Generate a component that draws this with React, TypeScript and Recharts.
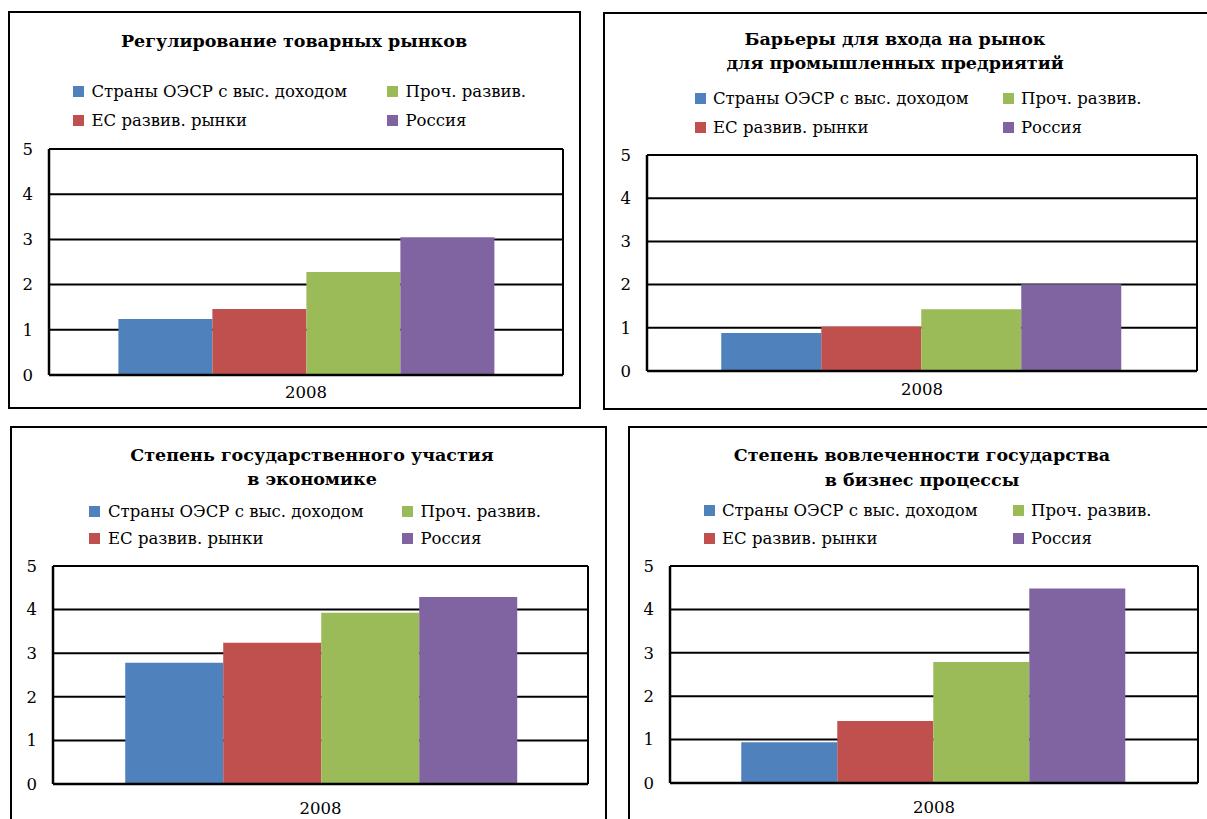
import React from 'react';
import { BarChart, Bar, XAxis, YAxis, CartesianGrid, Legend } from 'recharts';

// ряды и значения
const seriesNames = ['Страны ОЭСР с выс. доходом', 'ЕС развив. рынки', 'Проч. развив.', 'Россия'];
const seriesColors = ['#4F81BD', '#C0504D', '#9BBB59', '#8064A2'];
const years = ['2008'];
const yTicks = [0, 1, 2, 3, 4, 5];

const productMarketRegulation = [1.24, 1.46, 2.28, 3.05];
const entryBarriers = [0.88, 1.03, 1.43, 2.01];
const stateParticipation = [2.78, 3.24, 3.93, 4.29];
const businessInvolvement = [0.94, 1.43, 2.79, 4.48];

const FONT = '"DejaVu Serif", serif';

type PanelSpec = {
  titleLines: string[];
  values: number[];
  box: [number, number, number, number]; // left, top, right, bottom (page px)
  plot: [number, number, number, number];
  titleCenter: number;
  titleTop: number;
  titleLineHeight: number;
  legendCols: [number, number];
  legendRows: [number, number];
  textGap: number;
  xLabelGap: number;
};

const panels: PanelSpec[] = [
  {
    titleLines: ['Регулирование товарных рынков'],
    values: productMarketRegulation,
    box: [8, 11, 581, 409],
    plot: [49, 149, 563, 375],
    titleCenter: 294,
    titleTop: 28.5,
    titleLineHeight: 25,
    legendCols: [72.5, 386.5],
    legendRows: [91.5, 120.5],
    textGap: 19,
    xLabelGap: 11,
  },
  {
    titleLines: ['Барьеры для входа на рынок', 'для промышленных предриятий'],
    values: entryBarriers,
    box: [603, 12, 1210, 410],
    plot: [647, 155, 1197, 371],
    titleCenter: 895,
    titleTop: 26.7,
    titleLineHeight: 24.5,
    legendCols: [695, 1003],
    legendRows: [98, 127],
    textGap: 18,
    xLabelGap: 12,
  },
  {
    titleLines: ['Степень государственного участия', 'в экономике'],
    values: stateParticipation,
    box: [10, 426, 607, 823],
    plot: [53, 566, 588, 784],
    titleCenter: 312,
    titleTop: 443,
    titleLineHeight: 24,
    legendCols: [89, 401.5],
    legendRows: [511.5, 538.5],
    textGap: 19,
    xLabelGap: 18,
  },
  {
    titleLines: ['Степень вовлеченности государства', 'в бизнес процессы'],
    values: businessInvolvement,
    box: [628, 426, 1210, 823],
    plot: [670, 566, 1198, 783],
    titleCenter: 922,
    titleTop: 442.5,
    titleLineHeight: 25,
    legendCols: [704, 1013],
    legendRows: [510, 538.5],
    textGap: 18,
    xLabelGap: 18,
  },
];

const Y_AXIS_W = 40;
const X_AXIS_H = 30;
const TICK_STYLE = { fill: '#000', fontSize: 16.5, fontFamily: FONT };

function Panel({ spec }: { spec: PanelSpec }) {
  const [bl, bt, br, bb] = spec.box;
  const [pl, pt, pr, pb] = spec.plot;
  const w = br - bl;
  const h = bb - bt;

  const data = years.map((year) => {
    const row: Record<string, string | number> = { year };
    spec.values.forEach((v, i) => {
      row[`s${i}`] = v;
    });
    return row;
  });

  const renderLegend = (props: any) => {
    const payload = props.payload || [];
    return (
      <div style={{ position: 'relative', width: w, height: 0 }}>
        {payload.map((entry: any) => {
          const i = seriesNames.indexOf(entry.value);
          const col = i < 2 ? 0 : 1;
          const row = i % 2;
          return (
            <div
              key={entry.value}
              style={{
                position: 'absolute',
                left: spec.legendCols[col] - bl,
                top: spec.legendRows[row] - bt - 11,
                height: 22,
                display: 'flex',
                alignItems: 'center',
                whiteSpace: 'nowrap',
                fontFamily: FONT,
                fontSize: 16.5,
                color: '#000',
              }}
            >
              <span
                style={{
                  display: 'inline-block',
                  width: 11,
                  height: 11,
                  background: entry.color,
                  marginRight: spec.textGap - 11,
                }}
              />
              {entry.value}
            </div>
          );
        })}
      </div>
    );
  };

  return (
    <>
      <div
        style={{
          position: 'absolute',
          left: bl,
          top: bt,
          width: w,
          height: h,
          border: '2px solid #000',
          boxSizing: 'border-box',
        }}
      />
      <div
        style={{
          position: 'absolute',
          left: spec.titleCenter - 300,
          top: spec.titleTop,
          width: 600,
          textAlign: 'center',
          fontFamily: FONT,
          fontWeight: 'bold',
          fontSize: 17.5,
          lineHeight: `${spec.titleLineHeight}px`,
          color: '#000',
        }}
      >
        {spec.titleLines.map((line) => (
          <div key={line}>{line}</div>
        ))}
      </div>
      <div style={{ position: 'absolute', left: bl, top: bt }}>
        <BarChart
          width={w}
          height={h}
          data={data}
          margin={{
            top: pt - bt,
            right: br - pr,
            bottom: bb - pb - X_AXIS_H,
            left: pl - bl - Y_AXIS_W,
          }}
          barCategoryGap="13.5%"
          barGap={0}
          style={{ fontFamily: FONT }}
        >
          <CartesianGrid
            stroke="#000"
            strokeWidth={2}
            verticalCoordinatesGenerator={({ offset }: any) => [offset.left, offset.left + offset.width]}
          />
          <XAxis
            dataKey="year"
            height={X_AXIS_H}
            tickLine={false}
            tickSize={0}
            tickMargin={spec.xLabelGap}
            axisLine={{ stroke: '#000', strokeWidth: 2.5 }}
            tick={TICK_STYLE}
          />
          <YAxis
            width={Y_AXIS_W}
            domain={[0, 5]}
            ticks={yTicks}
            interval={0}
            tickLine={false}
            tickSize={0}
            tickMargin={16}
            axisLine={{ stroke: '#000', strokeWidth: 2.5 }}
            tick={TICK_STYLE}
          />
          <Legend
            content={renderLegend}
            layout="horizontal"
            verticalAlign="middle"
            wrapperStyle={{ position: 'absolute', left: 0, top: 0, width: w, height: 0 }}
          />
          {seriesNames.map((name, i) => (
            <Bar key={name} dataKey={`s${i}`} name={name} fill={seriesColors[i]} isAnimationActive={false} />
          ))}
        </BarChart>
      </div>
    </>
  );
}

export default function App() {
  return (
    <div
      style={{
        position: 'absolute',
        left: 0,
        top: 0,
        width: 1207,
        height: 819,
        overflow: 'hidden',
        background: '#fff',
      }}
    >
      {panels.map((p) => (
        <Panel key={p.titleLines[0]} spec={p} />
      ))}
    </div>
  );
}
